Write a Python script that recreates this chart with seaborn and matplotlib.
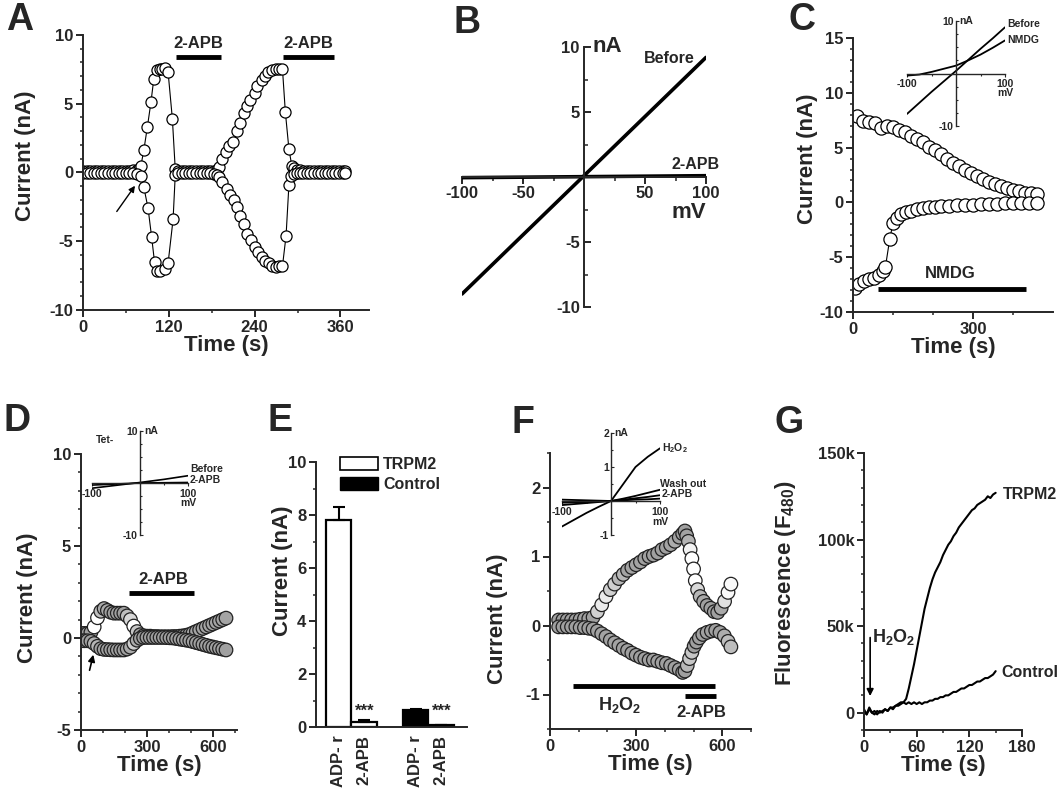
import numpy as np
import pandas as pd
import seaborn as sns
import matplotlib.pyplot as plt
from matplotlib.ticker import MultipleLocator, FixedLocator
from matplotlib.patches import Patch
from matplotlib.colors import LinearSegmentedColormap

# ---------------- data ----------------
# A: time course, upper (+100 mV) and lower (-100 mV) current
a_up_t = [0, 5, 10, 15, 20, 25, 30, 35, 40, 45, 50, 55, 60, 65, 70, 75,
          78, 81, 85, 90, 95, 99, 103, 107, 111, 115, 119, 125, 129,
          133, 138, 143, 148, 153, 158, 163, 168, 173, 178, 183, 187,
          190, 195, 200, 204, 210, 215, 220, 225, 229, 234, 240, 244, 250, 254,
          259, 264, 270, 274, 279, 283, 288, 292, 295, 299,
          303, 308, 313, 318, 323, 328, 333, 338, 343, 348, 353, 358, 363, 367]
a_up = [0.1, 0.1, 0.1, 0.1, 0.1, 0.1, 0.1, 0.1, 0.1, 0.1, 0.1, 0.1, 0.1, 0.12, 0.15, 0.2,
        0.25, 0.5, 1.6, 3.3, 5.1, 6.8, 7.45, 7.5, 7.55, 7.6, 7.3, 3.9, 0.25,
        0.1, 0.1, 0.1, 0.1, 0.1, 0.1, 0.1, 0.1, 0.1, 0.1, 0.12, 0.2,
        0.4, 1.0, 1.5, 1.9, 2.2, 3.0, 3.6, 4.3, 4.8, 5.3, 5.8, 6.3, 6.7, 7.0,
        7.3, 7.45, 7.5, 7.5, 7.5, 4.4, 1.7, 0.5, 0.3, 0.2,
        0.15, 0.12, 0.1, 0.1, 0.1, 0.1, 0.1, 0.1, 0.1, 0.1, 0.1, 0.1, 0.1, 0.1]
a_lo_t = [0, 5, 10, 15, 20, 25, 30, 35, 40, 45, 50, 55, 60, 65, 70, 75,
          81, 85, 91, 96, 100, 104, 108, 114, 119, 126, 129,
          133, 138, 143, 148, 153, 158, 163, 168, 173, 178, 183, 187,
          190, 195, 201, 206, 211, 215, 220, 225, 229, 235, 240, 245, 250, 255,
          260, 265, 270, 274, 279, 284, 288, 291,
          295, 299, 303, 308, 313, 318, 323, 328, 333, 338, 343, 348, 353, 358, 363, 367]
a_lo = [-0.05, -0.05, -0.05, -0.05, -0.05, -0.05, -0.05, -0.05, -0.05, -0.05, -0.05, -0.05, -0.05, -0.05, -0.05, -0.08,
        -0.25, -1.05, -2.6, -4.7, -6.5, -7.2, -7.2, -7.05, -6.6, -3.4, -0.2,
        -0.05, -0.05, -0.05, -0.05, -0.05, -0.05, -0.05, -0.05, -0.05, -0.05, -0.08, -0.15,
        -0.3, -0.7, -1.2, -1.65, -2.0, -2.5, -3.2, -3.75, -4.45, -4.9, -5.4, -5.8, -6.15, -6.45,
        -6.6, -6.8, -6.85, -6.8, -6.8, -4.6, -0.9, -0.25,
        -0.1, -0.05, -0.05, -0.05, -0.05, -0.05, -0.05, -0.05, -0.05, -0.05, -0.05, -0.05, -0.05, -0.05, -0.05, -0.05]

# B: I-V ramps
b_mv = [-100, 100]
b_before = [-9.0, 9.2]
b_apb = [-0.05, 0.1]

# C: NMDG replacement
c_up_t = [10, 25, 40, 55, 70, 85, 100, 115, 130, 145, 160, 175, 190, 205, 220, 235,
          250, 265, 280, 295, 310, 325, 340, 355, 370, 385, 400, 415, 430, 445, 460]
c_up = [7.9, 7.4, 7.3, 7.2, 6.8, 7.0, 6.9, 6.6, 6.4, 6.1, 5.8, 5.5, 5.1, 4.8, 4.4, 4.0,
        3.6, 3.3, 3.0, 2.7, 2.4, 2.1, 1.9, 1.7, 1.5, 1.3, 1.15, 1.0, 0.9, 0.85, 0.8]
c_lo_t = [5, 15, 27, 40, 52, 65, 75, 81, 92, 100, 110, 120, 132, 145, 160, 175,
          190, 205, 220, 240, 260, 280, 300, 320, 340, 360, 380, 400, 420, 440, 460]
c_lo = [-7.8, -7.4, -7.2, -7.0, -6.9, -6.6, -6.3, -5.9, -3.3, -1.9, -1.4, -1.1, -0.9, -0.75, -0.6, -0.5,
        -0.45, -0.4, -0.35, -0.3, -0.25, -0.22, -0.2, -0.17, -0.15, -0.12, -0.1, -0.08, -0.06, -0.05, -0.03]
c_iv_mv = [-100, -75, -50, -25, 0, 25, 50, 75, 100]
c_iv_before = [-7.7, -5.6, -3.5, -1.5, 0.5, 2.6, 4.7, 6.7, 8.8]
c_iv_nmdg = [-0.4, -0.2, 0.3, 0.9, 1.5, 2.5, 3.6, 4.9, 6.3]

# D: tet- cells
d_t = [0, 15, 30, 45, 60, 75, 90, 105, 120, 135, 150, 165, 180, 195, 210, 225, 240, 255,
       270, 285, 300, 315, 330, 345, 360, 375, 390, 405, 420, 435, 450, 465, 480, 495,
       510, 525, 540, 555, 570, 585, 600, 615, 630, 645, 660]
d_up = [0.25, 0.25, 0.25, 0.3, 0.6, 1.1, 1.45, 1.6, 1.5, 1.4, 1.35, 1.35, 1.35, 1.35, 1.2, 1.0, 0.65, 0.35,
        0.18, 0.12, 0.1, 0.1, 0.08, 0.08, 0.07, 0.07, 0.07, 0.07, 0.08, 0.08, 0.1, 0.12, 0.15, 0.2,
        0.28, 0.36, 0.44, 0.52, 0.6, 0.68, 0.76, 0.84, 0.92, 1.0, 1.08]
d_lo = [-0.15, -0.15, -0.15, -0.18, -0.3, -0.45, -0.58, -0.62, -0.63, -0.64, -0.65, -0.65, -0.65, -0.65, -0.6, -0.5, -0.3, -0.12,
        -0.02, 0.03, 0.03, 0.03, 0.03, 0.03, 0.03, 0.03, 0.02, 0.01, 0.0, -0.03, -0.06, -0.09, -0.12, -0.15,
        -0.2, -0.25, -0.3, -0.35, -0.4, -0.45, -0.49, -0.53, -0.57, -0.61, -0.65]
d_iv_mv = [-100, -50, 0, 50, 100]
d_iv_before = [-1.0, -0.45, 0.1, 0.7, 1.4]
d_iv_apb = [-0.4, -0.2, 0.0, 0.05, 0.1]

# E: summary bars
e_labels = ['ADP- r', '2-APB', 'ADP- r', '2-APB']
e_groups = ['TRPM2', 'TRPM2', 'Control', 'Control']
e_means = [7.8, 0.2, 0.65, 0.08]
e_errs = [0.5, 0.05, 0.03, 0.01]

# F: H2O2 activation
f_up_t = [30, 45, 60, 75, 90, 105, 120, 135, 150, 165, 180, 195, 210, 225, 240, 255, 270, 285,
          300, 315, 330, 345, 360, 375, 390, 405, 420, 435, 450,
          462, 470, 476, 482, 488, 494, 500, 506, 514, 523, 535, 547, 560, 572, 584, 596, 608, 620, 630]
f_up = [0.08, 0.08, 0.08, 0.08, 0.08, 0.09, 0.1, 0.1, 0.12, 0.2, 0.3, 0.42, 0.52, 0.6, 0.68, 0.74, 0.8, 0.84,
        0.88, 0.92, 0.97, 1.0, 1.02, 1.05, 1.1, 1.13, 1.17, 1.22, 1.28,
        1.33, 1.37, 1.3, 1.22, 1.1, 0.97, 0.82, 0.65, 0.52, 0.42, 0.35, 0.29, 0.25, 0.2, 0.19, 0.25, 0.35, 0.48, 0.6]
f_lo_t = [30, 45, 60, 75, 90, 105, 120, 135, 150, 165, 180, 195, 210, 225, 240, 255, 270, 285,
          300, 315, 330, 345, 360, 375, 390, 405, 420, 435, 450,
          462, 470, 478, 486, 494, 502, 510, 520, 532, 547, 562, 577, 592, 607, 620, 630]
f_lo = [-0.02, -0.02, -0.02, -0.02, -0.02, -0.03, -0.03, -0.04, -0.05, -0.08, -0.12, -0.16, -0.21, -0.25, -0.29, -0.33, -0.36, -0.4,
        -0.43, -0.46, -0.48, -0.5, -0.5, -0.52, -0.54, -0.55, -0.58, -0.61, -0.64,
        -0.68, -0.66, -0.58, -0.48, -0.39, -0.3, -0.24, -0.18, -0.13, -0.1, -0.08, -0.07, -0.1, -0.15, -0.23, -0.31]
f_iv_mv = [-100, -75, -50, -25, 0, 25, 50, 75, 100]
f_iv_h2o2 = [-0.75, -0.55, -0.35, -0.17, 0.0, 0.5, 1.0, 1.3, 1.55]
f_iv_wash = [-0.12, -0.09, -0.06, -0.03, 0.0, 0.07, 0.15, 0.24, 0.33]
f_iv_apb = [-0.05, -0.04, -0.03, -0.01, 0.0, 0.04, 0.08, 0.12, 0.17]
f_iv_base = [0.04, 0.03, 0.02, 0.01, 0.0, 0.02, 0.04, 0.05, 0.07]

# G: fluorescence (thousands)
g_t = [0, 3, 6, 9, 12, 15, 18, 21, 24, 27, 30, 33, 36, 39, 42, 45, 48, 51, 54, 57,
       60, 63, 66, 69, 72, 75, 78, 81, 84, 87, 90, 93, 96, 99, 102, 105, 108, 111, 114, 117,
       120, 123, 126, 129, 132, 135, 138, 141, 144, 147, 150]
g_trpm2 = [2, -1, 3, 0, 1, -1, 1, 0, 2, 1, 3, 2, 4, 4, 5, 6, 8, 14, 21, 28,
           36, 44, 52, 60, 66, 72, 77, 81, 84, 87, 91, 94, 97, 99, 102, 104, 107, 109, 111, 113,
           115, 117, 118, 120, 121, 122, 123, 125, 124, 126, 127]
g_control = [1, -1, 2, 0, -1, 1, 0, 1, 2, 1, 3, 3, 4, 5, 6, 6, 5, 6, 5, 6,
             5, 6, 5, 6, 6, 7, 7, 8, 8, 9, 9, 10, 10, 11, 12, 12, 13, 14, 14, 15,
             16, 16, 17, 18, 18, 19, 20, 20, 21, 22, 24]

# ---------------- style ----------------
sns.set_style('ticks')
plt.rcParams['font.family'] = ['Liberation Sans', 'DejaVu Sans']
plt.rcParams['font.weight'] = 'bold'
plt.rcParams['axes.labelweight'] = 'bold'
plt.rcParams['axes.unicode_minus'] = False
plt.rcParams['mathtext.fontset'] = 'custom'
plt.rcParams['mathtext.rm'] = 'Liberation Sans:bold'
plt.rcParams['mathtext.bf'] = 'Liberation Sans:bold'
plt.rcParams['mathtext.default'] = 'bf'
plt.rcParams['axes.linewidth'] = 1.4

W, H = 1063, 789
fig = plt.figure(figsize=(W / 100, H / 100), dpi=100)
greys = LinearSegmentedColormap.from_list('g', ['#a0a0a0', '#ffffff'])


def px_axes(left, top, right, bottom):
    return fig.add_axes([left / W, 1 - bottom / H, (right - left) / W, (bottom - top) / H])


def style(ax):
    sns.despine(ax=ax)
    ax.tick_params(which='major', direction='out', length=5, width=1.4, labelsize=12, pad=2)
    ax.tick_params(which='minor', direction='out', length=2.5, width=1.1)


def iv_style(ax, fs=7.5):
    ax.set_facecolor('none')
    for s in ['top', 'right']:
        ax.spines[s].set_visible(False)
    ax.spines['left'].set_position(('data', 0))
    ax.spines['bottom'].set_position(('data', 0))
    for s in ['left', 'bottom']:
        ax.spines[s].set_linewidth(1.0)
    ax.tick_params(axis='y', which='both', direction='in', width=0.8, labelsize=fs, pad=1.5)
    ax.tick_params(axis='x', which='both', direction='out', width=0.8, labelsize=fs, pad=1.5)
    ax.tick_params(which='major', length=2.5)
    ax.tick_params(which='minor', length=1.5)


def circles(ax, t, y, ms):
    sns.lineplot(x=t, y=y, ax=ax, color='black', lw=0.8, marker='o', markersize=ms,
                 markerfacecolor='white', markeredgecolor='black', markeredgewidth=0.9,
                 sort=False, estimator=None)


def dense_circles(ax, t, y, near, far):
    # shade each circle by how crowded it is on screen (stacked circles look grey)
    pts = ax.transData.transform(np.column_stack([t, y]))
    d = np.hypot(*np.diff(pts, axis=0).T)
    dmin = np.minimum(np.r_[d, np.inf], np.r_[np.inf, d])
    shade = np.clip((dmin - near) / (far - near), 0, 1)
    sns.scatterplot(x=t, y=y, hue=shade, palette=greys, hue_norm=(0, 1), s=95,
                    edgecolor='#222222', linewidth=0.9, legend=False, ax=ax)


def label(x, y, s):
    fig.text(x / W, 1 - y / H, s, fontsize=27, fontweight='bold', va='top', ha='left')


# ---------------- A ----------------
ax = px_axes(83, 35, 369, 310)
circles(ax, a_up_t, a_up, 8)
circles(ax, a_lo_t, a_lo, 8)
ax.set_xlim(0, 400)
ax.set_ylim(-10, 10)
style(ax)
ax.xaxis.set_major_locator(FixedLocator([0, 120, 240, 360]))
ax.xaxis.set_minor_locator(FixedLocator([60, 180, 300]))
ax.yaxis.set_major_locator(MultipleLocator(5))
ax.yaxis.set_minor_locator(MultipleLocator(1))
ax.set_xlabel('Time (s)', fontsize=16, labelpad=0)
ax.set_ylabel('Current (nA)', fontsize=16)
ax.yaxis.set_label_coords(-0.165, 0.56)
for t0, t1 in [(130, 193), (280, 351)]:
    ax.plot([t0, t1], [8.4, 8.4], color='black', lw=3.5, solid_capstyle='butt')
    ax.text((t0 + t1) / 2, 9.4, '2-APB', ha='center', va='center', fontsize=12)
ax.annotate('', xy=(75, -0.8), xytext=(45, -3.0),
            arrowprops=dict(arrowstyle='-|>', color='black', lw=1, mutation_scale=9))
label(6, 2, 'A')

# ---------------- B ----------------
ax = px_axes(462, 47, 706, 307)
sns.lineplot(x=b_mv, y=b_before, ax=ax, color='black', lw=2.6)
sns.lineplot(x=b_mv, y=b_apb, ax=ax, color='black', lw=2.6)
ax.set_xlim(-100, 100)
ax.set_ylim(-10, 10)
iv_style(ax, fs=12)
ax.spines['left'].set_linewidth(1.4)
ax.spines['bottom'].set_linewidth(1.4)
ax.tick_params(which='major', length=5, width=1.4)
ax.tick_params(which='minor', length=3, width=1.1)
ax.tick_params(axis='y', pad=3)
ax.set_xticks([-100, -50, 50, 100])
ax.set_yticks([-10, -5, 5, 10])
ax.xaxis.set_minor_locator(FixedLocator([-75, -25, 25, 75]))
ax.yaxis.set_minor_locator(FixedLocator([-7.5, -2.5, 2.5, 7.5]))
ax.set_xlabel('')
ax.set_ylabel('')
ax.text(7, 10, 'nA', ha='left', va='center', fontsize=16)
ax.text(100, -2.7, 'mV', ha='right', va='center', fontsize=16)
ax.text(91, 9.1, 'Before', ha='right', va='center', fontsize=11.5)
ax.text(72, 0.95, '2-APB', ha='left', va='center', fontsize=11.5, clip_on=False)
label(453, 5, 'B')

# ---------------- C ----------------
ax = px_axes(853, 38, 1053, 312)
circles(ax, c_up_t, c_up, 9.5)
circles(ax, c_lo_t, c_lo, 9.5)
ax.set_xlim(0, 500)
ax.set_ylim(-10, 15)
style(ax)
ax.xaxis.set_major_locator(FixedLocator([0, 300]))
ax.xaxis.set_minor_locator(FixedLocator([100, 200, 400]))
ax.yaxis.set_major_locator(MultipleLocator(5))
ax.yaxis.set_minor_locator(MultipleLocator(1))
ax.set_xlabel('Time (s)', fontsize=16, labelpad=0)
ax.set_ylabel('Current (nA)', fontsize=16)
ax.yaxis.set_label_coords(-0.175, 0.56)
ax.plot([62, 432], [-7.9, -7.9], color='black', lw=3.5, solid_capstyle='butt')
ax.text(242, -6.5, 'NMDG', ha='center', va='center', fontsize=12)
label(788, 2, 'C')

ax = px_axes(907, 21, 1005, 126)
sns.lineplot(x=c_iv_mv, y=c_iv_before, ax=ax, color='black', lw=1.3)
sns.lineplot(x=c_iv_mv, y=c_iv_nmdg, ax=ax, color='black', lw=1.3)
ax.set_xlim(-100, 100)
ax.set_ylim(-10, 10)
iv_style(ax)
ax.set_xticks([-100, 100])
ax.set_yticks([-10, 10])
ax.xaxis.set_minor_locator(FixedLocator([-50, 50]))
ax.yaxis.set_minor_locator(MultipleLocator(2.5))
ax.set_xlabel('')
ax.set_ylabel('')
ax.text(6, 10, 'nA', ha='left', va='center', fontsize=7.5)
ax.text(100, -3.8, 'mV', ha='center', va='center', fontsize=7.5)
ax.text(104, 9.4, 'Before', ha='left', va='center', fontsize=7.5, clip_on=False)
ax.text(104, 6.3, 'NMDG', ha='left', va='center', fontsize=7.5, clip_on=False)

# ---------------- D ----------------
ax = px_axes(81, 454, 237, 730)
ax.set_xlim(0, 710)
ax.set_ylim(-5, 10)
dense_circles(ax, d_t, d_up, 3.5, 6.0)
dense_circles(ax, d_t, d_lo, 3.5, 6.0)
style(ax)
ax.xaxis.set_major_locator(MultipleLocator(300))
ax.xaxis.set_minor_locator(MultipleLocator(100))
ax.yaxis.set_major_locator(MultipleLocator(5))
ax.yaxis.set_minor_locator(MultipleLocator(1))
ax.set_xlabel('Time (s)', fontsize=16, labelpad=0)
ax.set_ylabel('Current (nA)', fontsize=16)
ax.yaxis.set_label_coords(-0.275, 0.48)
ax.plot([218, 513], [2.45, 2.45], color='black', lw=3.5, solid_capstyle='butt')
ax.text(374, 3.2, '2-APB', ha='center', va='center', fontsize=12)
ax.annotate('', xy=(59, -0.76), xytext=(36, -1.9),
            arrowprops=dict(arrowstyle='-|>', color='black', lw=1.2, mutation_scale=10))
label(3, 403, 'D')

ax = px_axes(92, 431, 188, 535)
sns.lineplot(x=d_iv_mv, y=d_iv_before, ax=ax, color='black', lw=1.2)
sns.lineplot(x=d_iv_mv, y=d_iv_apb, ax=ax, color='black', lw=1.2)
ax.set_xlim(-100, 100)
ax.set_ylim(-10, 10)
iv_style(ax)
ax.set_xticks([-100, 100])
ax.set_yticks([-10, 10])
ax.xaxis.set_minor_locator(FixedLocator([-50, 50]))
ax.yaxis.set_minor_locator(MultipleLocator(2.5))
ax.set_xlabel('')
ax.set_ylabel('')
ax.text(8, 10, 'nA', ha='left', va='center', fontsize=7.5)
ax.text(100, -3.8, 'mV', ha='center', va='center', fontsize=7.5)
ax.text(104, 2.6, 'Before', ha='left', va='center', fontsize=7.5, clip_on=False)
ax.text(104, 0.5, '2-APB', ha='left', va='center', fontsize=7.5, clip_on=False)
ax.text(-72, 8.2, 'Tet-', ha='center', va='center', fontsize=7.5)

# ---------------- E ----------------
ax = px_axes(316, 462, 467, 727)
e_keys = [g + ' ' + l for g, l in zip(e_groups, e_labels)]
df_e = pd.DataFrame({'bar': e_keys, 'group': e_groups, 'value': e_means})
sns.barplot(data=df_e, x='bar', y='value', hue='group',
            order=[e_keys[0], e_keys[1], 'gap', e_keys[2], e_keys[3]],
            palette={'TRPM2': 'white', 'Control': 'black'}, edgecolor='black',
            linewidth=1.6, width=1.0, dodge=False, legend=False, ax=ax)
bar_pos = [0, 1, 3, 4]
ax.errorbar(bar_pos, e_means, yerr=[[0] * 4, e_errs], fmt='none', ecolor='black',
            elinewidth=1.5, capsize=4, capthick=1.5)
for p in [1, 4]:
    ax.text(p, 0.3, '***', ha='center', va='bottom', fontsize=12)
ax.set_xlim(-0.88, 5.0)
ax.set_ylim(0, 10)
style(ax)
ax.set_xticks(bar_pos)
ax.set_xticklabels(e_labels, rotation=90, fontsize=12)
ax.tick_params(axis='x', length=0, pad=6)
ax.yaxis.set_major_locator(MultipleLocator(2))
ax.yaxis.set_minor_locator(MultipleLocator(1))
ax.set_xlabel('')
ax.set_ylabel('Current (nA)', fontsize=16)
ax.yaxis.set_label_coords(-0.15, 0.59)
handles = [Patch(facecolor='white', edgecolor='black', linewidth=1.2, label='TRPM2'),
           Patch(facecolor='black', edgecolor='black', label='Control')]
ax.legend(handles=handles, loc='upper left', bbox_to_anchor=(0.16, 1.02), frameon=False,
          fontsize=11.5, handlelength=2.4, handleheight=0.9, handletextpad=0.3,
          borderpad=0, borderaxespad=0, labelspacing=0.3)
label(268, 403, 'E')

# ---------------- F ----------------
ax = px_axes(550, 453, 751, 729)
ax.set_xlim(0, 700)
ax.set_ylim(-1.5, 2.5)
dense_circles(ax, f_up_t, f_up, 5.0, 9.0)
dense_circles(ax, f_lo_t, f_lo, 5.0, 9.0)
style(ax)
ax.xaxis.set_major_locator(MultipleLocator(300))
ax.xaxis.set_minor_locator(MultipleLocator(100))
ax.yaxis.set_major_locator(MultipleLocator(1))
ax.yaxis.set_minor_locator(MultipleLocator(0.5))
ax.set_xlabel('Time (s)', fontsize=16, labelpad=0)
ax.set_ylabel('Current (nA)', fontsize=16)
ax.yaxis.set_label_coords(-0.21, 0.4)
ax.plot([79, 576], [-0.88, -0.88], color='black', lw=3.5, solid_capstyle='butt')
ax.plot([471, 579], [-1.02, -1.02], color='black', lw=3.5, solid_capstyle='butt')
ax.text(244, -1.15, r'H$_2$O$_2$', ha='center', va='center', fontsize=13)
ax.text(527, -1.26, '2-APB', ha='center', va='center', fontsize=12)
label(511, 405, 'F')

ax = px_axes(562, 433, 660, 535)
for ys in [f_iv_h2o2, f_iv_wash, f_iv_apb, f_iv_base]:
    sns.lineplot(x=f_iv_mv, y=ys, ax=ax, color='black', lw=1.3)
ax.set_xlim(-100, 100)
ax.set_ylim(-1, 2)
iv_style(ax)
ax.set_xticks([-100, 100])
ax.set_yticks([-1, 1, 2])
ax.xaxis.set_minor_locator(FixedLocator([-50, 50]))
ax.yaxis.set_minor_locator(MultipleLocator(0.5))
ax.set_xlabel('')
ax.set_ylabel('')
ax.text(6, 2, 'nA', ha='left', va='center', fontsize=7.5)
ax.text(100, -0.62, 'mV', ha='center', va='center', fontsize=7.5)
ax.text(104, 1.55, r'H$_2$O$_2$', ha='left', va='center', fontsize=7.5, clip_on=False)
ax.text(100, 0.5, 'Wash out', ha='left', va='center', fontsize=7.5, clip_on=False)
ax.text(104, 0.2, '2-APB', ha='left', va='center', fontsize=7.5, clip_on=False)

# ---------------- G ----------------
ax = px_axes(864, 453, 1022, 730)
sns.lineplot(x=g_t, y=g_trpm2, ax=ax, color='black', lw=1.5)
sns.lineplot(x=g_t, y=g_control, ax=ax, color='black', lw=1.5)
ax.set_xlim(0, 180)
ax.set_ylim(-10, 150)
style(ax)
ax.xaxis.set_major_locator(MultipleLocator(60))
ax.xaxis.set_minor_locator(MultipleLocator(30))
ax.set_yticks([0, 50, 100, 150])
ax.set_yticklabels(['0', '50k', '100k', '150k'])
ax.yaxis.set_minor_locator(MultipleLocator(10))
ax.set_xlabel('Time (s)', fontsize=16, labelpad=0)
ax.set_ylabel(r'Fluorescence (F$_{480}$)', fontsize=16)
ax.yaxis.set_label_coords(-0.42, 0.53)
ax.annotate('', xy=(7, 8), xytext=(7, 45),
            arrowprops=dict(arrowstyle='-|>', color='black', lw=1.2, mutation_scale=10))
ax.text(9, 44, r'H$_2$O$_2$', ha='left', va='center', fontsize=13)
ax.text(158, 126, 'TRPM2', ha='left', va='center', fontsize=11.5, clip_on=False)
ax.text(157, 23, 'Control', ha='left', va='center', fontsize=11.5, clip_on=False)
label(774, 405, 'G')

fig.savefig('out.png', dpi=100)
